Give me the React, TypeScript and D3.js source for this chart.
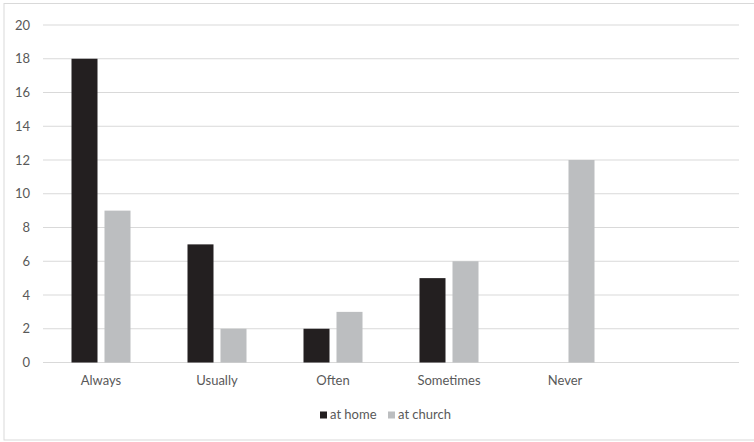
import React from "react";
import * as d3 from "d3";

const categories = ["Always", "Usually", "Often", "Sometimes", "Never", ""];
const atHome = [18, 7, 2, 5, 0, null];
const atChurch = [9, 2, 3, 6, 12, null];
const seriesNames = ["at home", "at church"];
const yTicks = [0, 2, 4, 6, 8, 10, 12, 14, 16, 18, 20];

const W = 754;
const H = 442;
const colors = ["#231f20", "#bcbec0"];
const textColor = "#595959";
const font = "Lato, 'Open Sans', sans-serif";

export default function App() {
  const x = d3.scaleBand<string>().domain(categories.map((c, i) => `${i}`)).range([43, 739]);
  const y = d3.scaleLinear().domain([0, 20]).range([362.5, 25]);
  const barW = 26;
  const gap = 7;
  const series = [atHome, atChurch];

  return (
    <svg
      width={W}
      height={H}
      style={{ position: "absolute", left: 0, top: 0, background: "#fff" }}
      fontFamily={font}
    >
      <rect x={4} y={3.5} width={W + 10} height={436.5} fill="#fff" stroke="#d9d9d9" strokeWidth={1} />
      {yTicks.map((t) => (
        <g key={t}>
          <line x1={43} x2={739} y1={y(t)} y2={y(t)} stroke="#d9d9d9" strokeWidth={1} />
          <text x={30} y={y(t)} dy="0.35em" textAnchor="end" fontSize={13} fill={textColor}>
            {t}
          </text>
        </g>
      ))}
      {categories.map((c, i) => {
        const cx = (x(`${i}`) as number) + x.bandwidth() / 2;
        return (
          <g key={i}>
            {series.map((s, k) => {
              const v = s[i];
              if (v == null || v === 0) return null;
              const bx = k === 0 ? cx - gap / 2 - barW : cx + gap / 2;
              return (
                <rect key={k} x={bx} y={y(v)} width={barW} height={y(0) - y(v)} fill={colors[k]} />
              );
            })}
            <text x={cx} y={385} textAnchor="middle" fontSize={13} fill={textColor}>
              {c}
            </text>
          </g>
        );
      })}
      <g>
        <rect x={320} y={411.5} width={7} height={7} fill={colors[0]} />
        <text x={330} y={419} fontSize={13} fill={textColor}>
          {seriesNames[0]}
        </text>
        <rect x={388} y={411.5} width={7} height={7} fill={colors[1]} />
        <text x={398} y={419} fontSize={13} fill={textColor}>
          {seriesNames[1]}
        </text>
      </g>
    </svg>
  );
}
